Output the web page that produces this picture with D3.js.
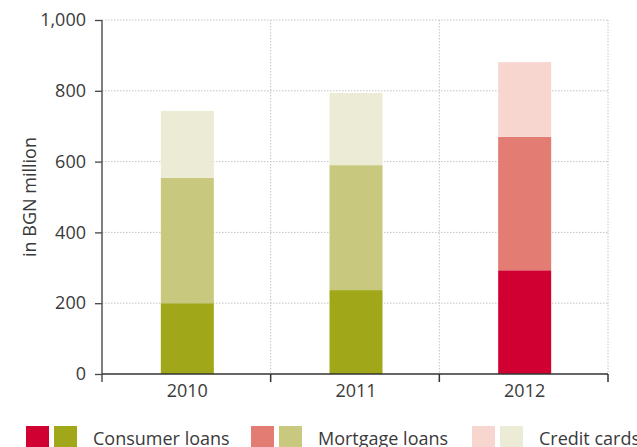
<!DOCTYPE html>
<html>
<head>
<meta charset="utf-8">
<script src="https://cdn.jsdelivr.net/npm/d3@7"></script>
<style>
  body { margin: 0; background: #fff; }
  svg text { font-family: "Open Sans", "DejaVu Sans", sans-serif; fill: #3a3a3a; }
</style>
</head>
<body>
<svg id="chart" width="637" height="447"></svg>
<script>
// values, in BGN million
var years = ['2010', '2011', '2012'];
var consumerLoans = [200, 237, 293];
var mortgageLoans = [354, 353, 377];
var creditCards = [189, 204, 211];
var seriesNames = ['Consumer loans', 'Mortgage loans', 'Credit cards'];
var yTicks = [0, 200, 400, 600, 800, 1000];

// 2010 and 2011 are green, 2012 is red
var greens = ['#a0a718', '#c8c97e', '#ecebd5'];
var reds = ['#d10033', '#e37c73', '#f7d6d0'];

var fontSize = '18px';

var svg = d3.select('#chart');
var margin = {left: 102, right: 29, top: 20, bottom: 73};
var width = 637 - margin.left - margin.right;
var height = 447 - margin.top - margin.bottom;

var g = svg.append('g').attr('transform', 'translate(' + margin.left + ',' + margin.top + ')');

var x = d3.scaleBand().domain(years).range([0, width]).padding(0);
var y = d3.scaleLinear().domain([0, 1000]).range([height, 0]);

// build the stack table from the arrays
var table = years.map(function(yr, i) {
  return {year: yr, 'Consumer loans': consumerLoans[i], 'Mortgage loans': mortgageLoans[i], 'Credit cards': creditCards[i]};
});
var stacked = d3.stack().keys(seriesNames)(table);

// dotted grid
g.append('g').selectAll('line')
  .data(yTicks.filter(function(d) { return d > 0; }))
  .enter().append('line')
  .attr('x1', 0).attr('x2', width)
  .attr('y1', function(d) { return y(d); }).attr('y2', function(d) { return y(d); })
  .attr('stroke', '#c4c4c4').attr('stroke-dasharray', '1.5,1.5');

var boundaries = years.slice(1).map(function(d) { return x(d); }).concat([width]);
g.append('g').selectAll('line')
  .data(boundaries)
  .enter().append('line')
  .attr('x1', function(d) { return d; }).attr('x2', function(d) { return d; })
  .attr('y1', 0).attr('y2', height)
  .attr('stroke', '#c4c4c4').attr('stroke-dasharray', '1.5,1.5');

// bars
var barW = 53;
stacked.forEach(function(layer, li) {
  g.append('g').selectAll('rect')
    .data(layer)
    .enter().append('rect')
    .attr('x', function(d) { return x(d.data.year) + (x.bandwidth() - barW) / 2 + 1; })
    .attr('width', barW)
    .attr('y', function(d) { return y(d[1]); })
    .attr('height', function(d) { return y(d[0]) - y(d[1]); })
    .attr('fill', function(d) { return d.data.year === '2012' ? reds[li] : greens[li]; });
});

// y axis
var yAxis = g.append('g')
  .call(d3.axisLeft(y).tickValues(yTicks).tickFormat(d3.format(',')).tickSize(7).tickPadding(9));
yAxis.select('.domain').remove();
yAxis.selectAll('line').attr('stroke', '#444').attr('stroke-width', 1.3);
yAxis.selectAll('text').style('font-size', fontSize).attr('fill', '#3a3a3a');
g.append('line')
  .attr('x1', 0).attr('x2', 0).attr('y1', 0).attr('y2', height + 8)
  .attr('stroke', '#555').attr('stroke-width', 1.5);

// x axis: ticks at the band edges, labels in the middle
g.append('line')
  .attr('x1', 0).attr('x2', width).attr('y1', height).attr('y2', height)
  .attr('stroke', '#333').attr('stroke-width', 1.5);
g.append('g').selectAll('line')
  .data(boundaries)
  .enter().append('line')
  .attr('x1', function(d) { return d; }).attr('x2', function(d) { return d; })
  .attr('y1', height).attr('y2', height + 8)
  .attr('stroke', '#333').attr('stroke-width', 1.5);
g.append('g').selectAll('text')
  .data(years)
  .enter().append('text')
  .attr('x', function(d) { return x(d) + x.bandwidth() / 2 + 1; })
  .attr('y', height + 23)
  .attr('text-anchor', 'middle')
  .style('font-size', fontSize)
  .text(function(d) { return d; });

// y axis title
svg.append('text')
  .attr('transform', 'translate(36,197) rotate(-90)')
  .attr('text-anchor', 'middle')
  .style('font-size', fontSize)
  .text('in BGN million');

// legend: a red and a green swatch per series
var legendX = [26, 251, 472];
var legend = svg.append('g').selectAll('g')
  .data(seriesNames)
  .enter().append('g')
  .attr('transform', function(d, i) { return 'translate(' + legendX[i] + ',426)'; });
legend.append('rect').attr('width', 23).attr('height', 21)
  .attr('fill', function(d, i) { return reds[i]; });
legend.append('rect').attr('x', 28).attr('width', 23).attr('height', 21)
  .attr('fill', function(d, i) { return greens[i]; });
legend.append('text')
  .attr('x', 67).attr('y', 19)
  .style('font-size', fontSize)
  .text(function(d) { return d; });
</script>
</body>
</html>
